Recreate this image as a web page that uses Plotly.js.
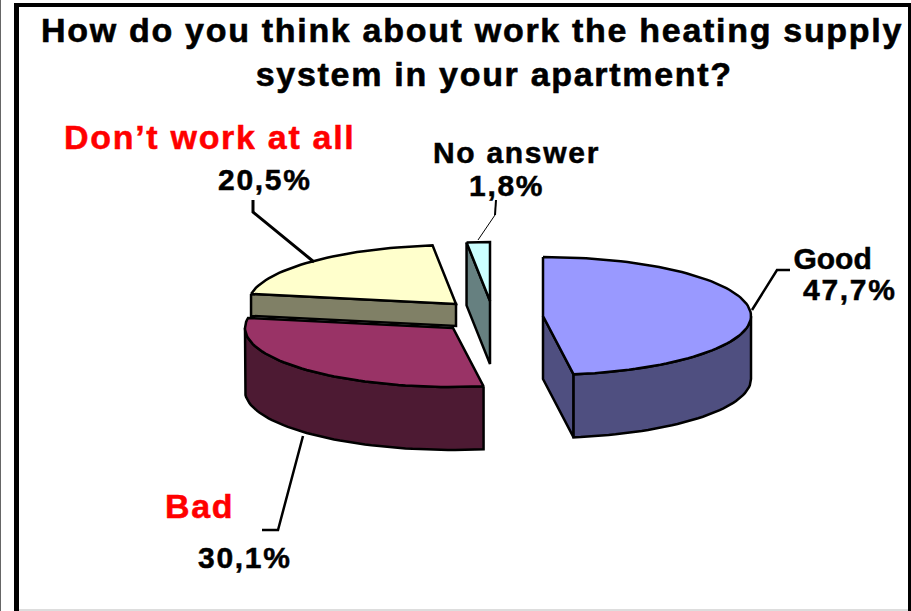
<!DOCTYPE html>
<html>
<head>
<meta charset="utf-8">
<script src="https://cdn.plot.ly/plotly-3.0.1.min.js"></script>
<style>
html,body{margin:0;padding:0;background:#fff}
#chart{width:911px;height:611px}
.gtitle{letter-spacing:1.7px;stroke:#000;stroke-width:.6px}
.annotation-text{letter-spacing:1.7px;stroke:#000;stroke-width:.5px}
.annotation[data-index="0"] .annotation-text{letter-spacing:0}
.annotation[data-index="2"] .annotation-text,.annotation[data-index="4"] .annotation-text{stroke:#F00}
</style>
</head>
<body>
<div id="chart"></div>
<script>
// --- data ---
var categories = ["Good", "Bad", "Don\u2019t work at all", "No answer"];
var percents = [47.7, 30.1, 20.5, 1.8];

// --- styling and pie geometry ---
var topColors = ["#9999FF", "#993366", "#FFFFCC", "#CCFFFF"];
var sideColors = ["#4F4F80", "#4D1A33", "#808066", "#668080"];
var centersX = [543, 453, 456, 490];
var centersY = [316, 328, 304, 301];
var visibleDepths = [63, 63, 22, 63];
var RX = 208, RY = 59;
var FONT = "Liberation Sans, Arial, sans-serif";

var total = percents.reduce(function (a, b) { return a + b; }, 0);
var angleStart = [], angleEnd = [], running = 0;
percents.forEach(function (p) {
  angleStart.push(running);
  running += p / total * 360;
  angleEnd.push(running);
});

function pt(i, deg, drop) {
  var r = deg * Math.PI / 180;
  return [centersX[i] + RX * Math.sin(r), centersY[i] - RY * Math.cos(r) + (drop || 0)];
}
function arc(i, a, b, drop) {
  var out = [], n = Math.max(2, Math.ceil(Math.abs(b - a) / 2));
  for (var k = 0; k <= n; k++) out.push(pt(i, a + (b - a) * k / n, drop));
  return out;
}
function apex(i, drop) { return [centersX[i], centersY[i] + (drop || 0)]; }
function poly(points, fill, name) {
  var closed = points.concat([points[0]]);
  return {
    type: "scatter", mode: "lines", name: name,
    x: closed.map(function (p) { return p[0]; }),
    y: closed.map(function (p) { return p[1]; }),
    fill: "toself", fillcolor: fill,
    line: { color: "#000000", width: 2.5, shape: "linear" },
    hoverinfo: "skip", showlegend: false
  };
}
function leader(xs, ys, w) {
  return {
    type: "scatter", mode: "lines", x: xs, y: ys,
    line: { color: "#000000", width: w },
    hoverinfo: "skip", showlegend: false
  };
}

var traces = [];
// No answer (farthest): cut face then top
(function (i) {
  var d = visibleDepths[i];
  traces.push(poly([pt(i, angleStart[i]), pt(i, angleStart[i], d), apex(i, d), apex(i)], sideColors[i], categories[i]));
  traces.push(poly(arc(i, angleStart[i], angleEnd[i]).concat([apex(i)]), topColors[i], categories[i]));
})(3);
// Don't work at all: cut face band then top
(function (i) {
  var d = visibleDepths[i];
  traces.push(poly([pt(i, angleStart[i]), pt(i, angleStart[i], d), apex(i, d), apex(i)], sideColors[i], categories[i]));
  traces.push(poly(arc(i, angleStart[i], angleEnd[i]).concat([apex(i)]), topColors[i], categories[i]));
})(2);
// Bad: outer wall then top
(function (i) {
  var d = visibleDepths[i];
  var wallTop = arc(i, angleStart[i], 270);
  var wallBottom = arc(i, 270, angleStart[i], d);
  traces.push(poly(wallTop.concat(wallBottom), sideColors[i], categories[i]));
  traces.push(poly(arc(i, angleStart[i], angleEnd[i]).concat([apex(i)]), topColors[i], categories[i]));
})(1);
// Good: cut face, outer wall, top
(function (i) {
  var d = visibleDepths[i];
  traces.push(poly([apex(i), pt(i, angleEnd[i]), pt(i, angleEnd[i], d), apex(i, d)], sideColors[i], categories[i]));
  traces.push(poly(arc(i, 90, angleEnd[i]).concat(arc(i, angleEnd[i], 90, d)), sideColors[i], categories[i]));
  traces.push(poly(arc(i, angleStart[i], angleEnd[i]).concat([apex(i)]), topColors[i], categories[i]));
})(0);

// leader lines
traces.push(leader([752, 777, 790], [310, 270, 270], 2.5));
traces.push(leader([478, 495], [240, 215], 1));
traces.push(leader([495, 496], [215, 200], 2));
traces.push(leader([314, 253, 253], [262, 212, 200], 3));
traces.push(leader([303, 278, 262], [436, 530, 530], 2.5));

function pctLabel(v) { return v.toFixed(1).replace(".", ",") + "%"; }
function note(text, x, y, size, color) {
  return {
    xref: "x", yref: "y", x: x, y: y, text: text, showarrow: false,
    xanchor: "center", yanchor: "middle", align: "center",
    font: { family: FONT, size: size, color: color || "#000000", weight: 700 }
  };
}
var annotations = [
  note(categories[0], 832, 258, 30),
  note(pctLabel(percents[0]), 850, 289, 30),
  note(categories[1], 199, 506, 34, "#FF0000"),
  note(pctLabel(percents[1]), 245, 557, 30),
  note(categories[2], 210, 137, 34, "#FF0000"),
  note(pctLabel(percents[2]), 265, 179, 30),
  note(categories[3], 516, 152, 30),
  note(pctLabel(percents[3]), 506, 185, 30)
];

function rect(x0, y0, x1, y1, color) {
  return { type: "rect", xref: "x", yref: "y", x0: x0, y0: y0, x1: x1, y1: y1,
           fillcolor: color, line: { width: 0 }, layer: "below" };
}
var shapes = [
  rect(0, 0, 1, 611, "#666666"),
  rect(14, 3, 19, 611, "#000000"),
  rect(14, 3, 911, 7, "#000000"),
  rect(908, 3, 911, 611, "#000000"),
  rect(19, 609, 908, 611, "#DDDDDD")
];

var layout = {
  width: 911, height: 611,
  margin: { l: 0, r: 0, t: 0, b: 0, pad: 0 },
  paper_bgcolor: "#FFFFFF", plot_bgcolor: "#FFFFFF",
  showlegend: false,
  title: {
    text: "How do you think about work the heating supply<br>\u00A0\u00A0\u00A0\u00A0system in your apartment?",
    x: 472 / 911, xref: "paper", xanchor: "center",
    y: 1 - 42 / 611, yref: "paper", yanchor: "top",
    font: { family: FONT, size: 34, color: "#000000", weight: 700 }
  },
  xaxis: { range: [0, 911], visible: false, fixedrange: true },
  yaxis: { range: [611, 0], visible: false, fixedrange: true },
  shapes: shapes,
  annotations: annotations
};
Plotly.newPlot("chart", traces, layout, { displayModeBar: false, staticPlot: true });
</script>
</body>
</html>
